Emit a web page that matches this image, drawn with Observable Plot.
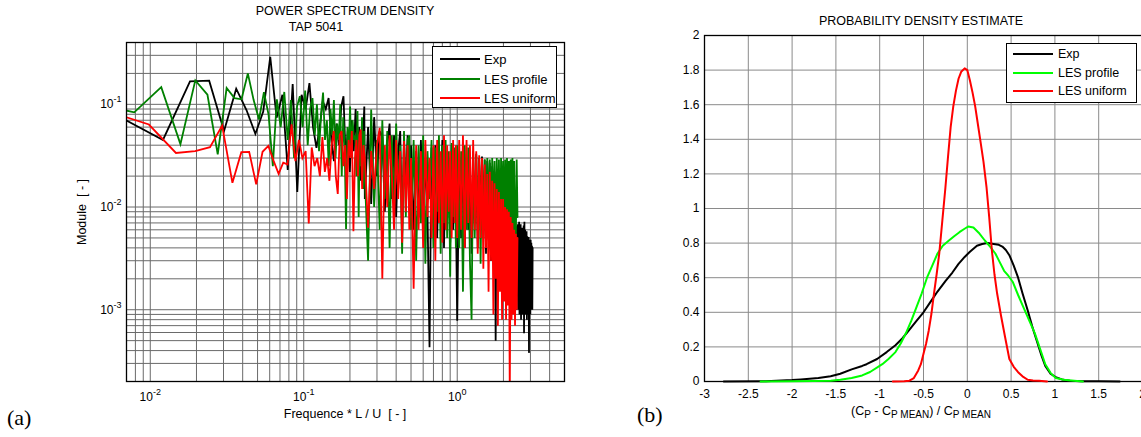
<!DOCTYPE html>
<html><head><meta charset="utf-8">
<script src="https://cdn.jsdelivr.net/npm/d3@7"></script>
<script src="https://cdn.jsdelivr.net/npm/@observablehq/plot@0.6"></script>
<style>
body{margin:0;background:#fff;}
#root{position:relative;width:1141px;height:437px;overflow:hidden;background:#fff;font-family:"Liberation Sans",Arial,sans-serif;color:#000;}
#root svg{position:absolute;top:0;}
.t{position:absolute;white-space:pre;transform:translate(-50%,-50%);line-height:1;font-size:12.5px;}
.cap{position:absolute;font-family:"Liberation Serif","Times New Roman",serif;font-size:22px;line-height:1;transform:translateY(-50%);}
.leg{position:absolute;background:#fff;border:1px solid #000;box-sizing:border-box;}
.leg .sw{position:absolute;height:0;border-top:2px solid #000;transform:translateY(-1px);}
.leg .lt{position:absolute;white-space:pre;line-height:1;transform:translateY(-50%);}
sub{font-size:10px;vertical-align:-3px;}
</style></head>
<body><div id="root"></div>
<script>
// ---------- Panel (a): power spectrum density (log-log) ----------
const expLowF = [0.00605,0.0121,0.01815,0.0242,0.03025,0.0363,0.04235,0.0484,0.05445,0.0605,0.06655,0.0726,0.07865,0.0847,0.09075,0.0968,0.10285,0.1089,0.11495,0.121,0.12705,0.1331,0.13915,0.1452,0.15125,0.1573,0.16335,0.1694,0.17545,0.1815,0.18755,0.1936,0.19965,0.2057,0.21175,0.2178,0.22385,0.2299,0.23595,0.242,0.24805];
const expLowV = [0.078,0.045,0.167,0.170,0.055,0.142,0.088,0.0515,0.085,0.290,0.074,0.124,0.023,0.158,0.014,0.124,0.090,0.161,0.060,0.0377,0.060,0.107,0.090,0.115,0.045,0.028,0.065,0.040,0.095,0.120,0.030,0.055,0.022,0.070,0.035,0.090,0.028,0.060,0.018,0.040,0.095];
const profLowF = [0.00393,0.00786,0.01179,0.01572,0.01965,0.02358,0.02751,0.03144,0.03537,0.0393,0.04323,0.04716,0.05109,0.05502,0.05895,0.06288,0.06681,0.07074,0.07467,0.0786,0.08253,0.08646,0.09039,0.09432,0.09825,0.10218,0.10611,0.11004,0.11397,0.1179,0.12183,0.12576,0.12969,0.13362,0.13755,0.14148,0.14541,0.14934,0.15327,0.1572,0.16113,0.16506,0.16899,0.17292,0.17685,0.18078,0.18471,0.18864,0.19257,0.1965,0.20043,0.20436,0.20829,0.21222,0.21615,0.22008,0.22401,0.22794,0.23187,0.2358,0.23973,0.24366,0.24759];
const profLowV = [0.105,0.0836,0.147,0.041,0.171,0.124,0.0325,0.144,0.115,0.112,0.200,0.110,0.071,0.131,0.080,0.025,0.112,0.060,0.132,0.045,0.110,0.030,0.095,0.120,0.060,0.136,0.040,0.090,0.115,0.050,0.100,0.035,0.080,0.130,0.045,0.070,0.025,0.090,0.050,0.110,0.030,0.065,0.045,0.100,0.020,0.075,0.040,0.0061,0.060,0.035,0.095,0.030,0.070,0.045,0.050,0.020,0.086,0.008,0.050,0.025,0.075,0.015,0.055];
const unifLowF = [0.0049,0.0098,0.0147,0.0196,0.0245,0.0294,0.0343,0.0392,0.0441,0.049,0.0539,0.0588,0.0637,0.0686,0.0735,0.0784,0.0833,0.0882,0.0931,0.098,0.1029,0.1078,0.1127,0.1176,0.1225,0.1274,0.1323,0.1372,0.1421,0.147,0.1519,0.1568,0.1617,0.1666,0.1715,0.1764,0.1813,0.1862,0.1911,0.196,0.2009,0.2058,0.2107,0.2156,0.2205,0.2254,0.2303,0.2352,0.2401,0.245];
const unifLowV = [0.089,0.0636,0.0336,0.035,0.0383,0.062,0.0172,0.0342,0.0344,0.0166,0.0345,0.0394,0.028,0.021,0.027,0.026,0.064,0.028,0.045,0.030,0.035,0.0069,0.038,0.025,0.030,0.020,0.048,0.022,0.030,0.018,0.040,0.055,0.020,0.0134,0.050,0.055,0.025,0.040,0.012,0.045,0.030,0.055,0.0058,0.030,0.045,0.020,0.050,0.057,0.015,0.040];
// shared dense (high-frequency) grid
const denseF = [0.25,0.2625,0.275,0.2875,0.3,0.3125,0.325,0.3375,0.35,0.3625,0.375,0.3875,0.4,0.4125,0.425,0.4375,0.45,0.4625,0.475,0.4875,
  0.5,0.52,0.54,0.56,0.58,0.6,0.62,0.64,0.66,0.68,0.7,0.72,0.74,0.76,0.78,0.8,0.82,0.84,0.86,0.88,0.9,0.92,0.94,0.96,0.98,
  1,1.03,1.06,1.09,1.12,1.15,1.18,1.21,1.24,1.27,1.3,1.33,1.36,1.39,1.42,1.45,1.48,1.51,1.54,1.57,1.6,1.63,1.66,1.69,1.72,1.75,1.78,1.81,1.84,1.87,1.9,1.93,1.96,1.99,2.02,2.05,2.08,2.11,2.14,2.17,2.2,2.23,2.26,2.29,2.32,2.35,2.38,2.41,2.44,2.47];
const expDenseV = [0.012,0.06,0.0107,0.075,0.02,0.055,0.048,0.009,0.04,0.065,0.012,0.05,0.008,0.035,0.055,0.0055,0.045,0.015,0.05,0.01,
  0.04,0.006,0.035,0.008,0.045,0.005,0.03,0.009,0.00043,0.038,0.007,0.04,0.005,0.032,0.011,0.045,0.004,0.035,0.008,0.03,0.0045,0.04,0.006,0.033,0.009,
  0.00078,0.03,0.005,0.028,0.004,0.03,0.006,0.032,0.0035,0.03,0.007,0.033,0.004,0.03,0.006,0.031,0.005,0.029,0.0035,0.028,0.006,0.027,0.003,0.025,0.004,0.022,0.0005,0.02,0.003,0.018,0.0025,0.016,0.002,0.015,0.0015,0.013,0.002,0.012,0.0012,0.01,0.0015,0.009,0.001,0.008,0.0012,0.007,0.0009,0.0065,0.001,0.0068];
const profDenseV = [0.02,0.003,0.089,0.01,0.045,0.006,0.07,0.012,0.055,0.004,0.05,0.009,0.065,0.015,0.04,0.0035,0.055,0.008,0.045,0.05,
  0.006,0.045,0.003,0.04,0.007,0.05,0.0028,0.035,0.012,0.045,0.004,0.038,0.009,0.05,0.0035,0.04,0.007,0.045,0.005,0.035,0.0021,0.042,0.008,0.038,0.004,
  0.04,0.004,0.035,0.0015,0.04,0.006,0.038,0.003,0.0008,0.035,0.005,0.032,0.006,0.03,0.0028,0.03,0.007,0.029,0.005,0.03,0.008,0.029,0.006,0.03,0.009,0.028,0.005,0.03,0.007,0.029,0.004,0.03,0.008,0.028,0.005,0.029,0.0037,0.03,0.006,0.028,0.004,0.029,0.0065,0.03,0.004,0.028,0.006,0.005,0.029,0.008];
const unifDenseV = [0.03,0.0063,0.035,0.015,0.04,0.059,0.002,0.04,0.01,0.05,0.02,0.006,0.045,0.012,0.035,0.0045,0.044,0.009,0.04,0.006,
  0.03,0.0016,0.04,0.006,0.035,0.004,0.045,0.008,0.03,0.005,0.04,0.003,0.045,0.007,0.035,0.0045,0.05,0.006,0.04,0.009,0.035,0.005,0.045,0.007,0.04,
  0.005,0.045,0.006,0.05,0.004,0.045,0.007,0.04,0.005,0.045,0.006,0.035,0.0035,0.032,0.005,0.03,0.0025,0.026,0.004,0.021,0.0015,0.022,0.003,0.018,0.0009,0.017,0.002,0.015,0.0007,0.014,0.0015,0.012,0.0008,0.012,0.0012,0.01,0.0008,0.0095,0.0011,0.009,0.00015,0.008,0.0008,0.007,0.0009,0.006,0.0007,0.0055,0.001,0.005];
const expTailF = [2.5,2.515,2.53,2.545,2.56,2.575,2.59,2.605,2.62,2.635,2.65,2.665,2.68,2.695,2.71,2.725,2.74,2.755,2.77,2.785,2.8,2.815,2.83,2.845,2.86,2.875,2.89,2.905,2.92,2.935,2.95,2.965,2.98,2.995,3.01,3.025,3.04,3.055,3.07,3.085,3.1];
const expTailV = [0.0065,0.001,0.0072,0.0009,0.006,0.0012,0.0068,0.0008,0.0055,0.001,0.0063,0.0009,0.0058,0.0011,0.0066,0.00059,0.0072,0.001,0.006,0.0009,0.0055,0.0012,0.0058,0.0008,0.0052,0.001,0.005,0.0009,0.0051,0.00038,0.0048,0.0011,0.0046,0.0009,0.0048,0.001,0.0045,0.0011,0.0042,0.001,0.004];

const xGridA = [0.007,0.008,0.009,0.01,0.02,0.03,0.04,0.05,0.06,0.07,0.08,0.09,0.1,0.2,0.3,0.4,0.5,0.6,0.7,0.8,0.9,1,2,3,4];
const yGridA = [0.0002,0.0003,0.0004,0.0005,0.0006,0.0007,0.0008,0.0009,0.001,0.002,0.003,0.004,0.005,0.006,0.007,0.008,0.009,0.01,0.02,0.03,0.04,0.05,0.06,0.07,0.08,0.09,0.1,0.2,0.3];
const xMajorA = [0.01,0.1,1];
const yMajorA = [0.001,0.01,0.1];
const xMajorLabelsA = ["10^-2","10^-1","10^0"];
const yMajorLabelsA = ["10^-3","10^-2","10^-1"];

// ---------- Panel (b): probability density estimate ----------
const pdfExpX = [-2.78,-2.3,-2.0,-1.9,-1.7,-1.56,-1.45,-1.32,-1.2,-1.15,-1.03,-0.92,-0.82,-0.74,-0.66,-0.58,-0.5,-0.42,-0.34,-0.25,-0.17,-0.1,-0.03,0.03,0.11,0.17,0.23,0.3,0.36,0.4,0.44,0.48,0.53,0.58,0.63,0.69,0.74,0.79,0.84,0.89,0.95,1.01,1.08,1.17,1.3,1.5,1.74];
const pdfExpY = [0,0.002,0.008,0.012,0.02,0.03,0.045,0.07,0.09,0.10,0.13,0.17,0.21,0.25,0.30,0.35,0.40,0.46,0.52,0.58,0.63,0.68,0.72,0.75,0.785,0.795,0.80,0.795,0.79,0.78,0.76,0.73,0.67,0.60,0.51,0.41,0.32,0.24,0.16,0.09,0.045,0.025,0.012,0.005,0.002,0.001,0];
const pdfProfX = [-2.36,-2.0,-1.75,-1.56,-1.45,-1.32,-1.2,-1.11,-0.97,-0.9,-0.82,-0.76,-0.7,-0.64,-0.58,-0.52,-0.46,-0.4,-0.34,-0.28,-0.21,-0.15,-0.09,-0.04,0.01,0.07,0.13,0.2,0.26,0.32,0.37,0.42,0.47,0.52,0.58,0.64,0.7,0.77,0.83,0.89,0.95,1.01,1.1,1.22,1.32];
const pdfProfY = [0,0.001,0.003,0.005,0.01,0.02,0.035,0.055,0.10,0.13,0.17,0.22,0.28,0.35,0.43,0.51,0.60,0.67,0.74,0.785,0.815,0.84,0.863,0.88,0.896,0.89,0.86,0.815,0.78,0.74,0.69,0.64,0.61,0.575,0.50,0.43,0.36,0.28,0.19,0.10,0.05,0.02,0.01,0.004,0];
const pdfUnifX = [-0.85,-0.72,-0.66,-0.61,-0.56,-0.53,-0.5,-0.47,-0.44,-0.41,-0.38,-0.35,-0.32,-0.285,-0.25,-0.22,-0.19,-0.16,-0.13,-0.1,-0.07,-0.03,0.0,0.03,0.06,0.09,0.12,0.15,0.185,0.22,0.25,0.28,0.31,0.34,0.385,0.43,0.48,0.53,0.58,0.63,0.69,0.75,0.82,0.91];
const pdfUnifY = [0,0.002,0.005,0.02,0.064,0.10,0.16,0.22,0.295,0.39,0.51,0.62,0.74,0.93,1.12,1.30,1.47,1.59,1.68,1.75,1.79,1.81,1.80,1.74,1.67,1.59,1.49,1.39,1.27,1.12,0.95,0.76,0.62,0.51,0.38,0.26,0.13,0.085,0.054,0.03,0.01,0.006,0.004,0];
const xTicksB = [-3,-2.5,-2,-1.5,-1,-0.5,0,0.5,1,1.5,2];
const yTicksB = [0,0.2,0.4,0.6,0.8,1,1.2,1.4,1.6,1.8,2];

const seriesNames = ["Exp","LES profile","LES uniform"];
const colorsA = ["#000000","#008000","#ff0000"];
const colorsB = ["#000000","#00ff00","#ff0000"];

// ---------- build ----------
const pairs = (xs, ys) => xs.map((x, i) => ({x, y: ys[i]}));
const expA = pairs(expLowF.concat(denseF, expTailF), expLowV.concat(expDenseV, expTailV));
const profA = pairs(profLowF.concat(denseF), profLowV.concat(profDenseV));
const unifA = pairs(unifLowF.concat(denseF), unifLowV.concat(unifDenseV));

const fontStyle = {fontFamily: '"Liberation Sans", Arial, sans-serif', fontSize: "12px", color: "#000", background: "transparent", overflow: "visible"};

const plotA = Plot.plot({
  width: 600, height: 437,
  marginLeft: 126, marginRight: 36, marginTop: 42, marginBottom: 56,
  x: {type: "log", domain: [0.007, 5]},
  y: {type: "log", domain: [0.0002, 0.4]},
  style: fontStyle,
  marks: [
    Plot.gridX(xGridA, {stroke: "#6a6a6a", strokeOpacity: 1, strokeWidth: 1}),
    Plot.gridY(yGridA, {stroke: "#6a6a6a", strokeOpacity: 1, strokeWidth: 1}),
    Plot.line(expA, {x: "x", y: "y", stroke: colorsA[0], strokeWidth: 1.8, clip: true, strokeLinejoin: "miter", strokeMiterlimit: 4}),
    Plot.line(profA, {x: "x", y: "y", stroke: colorsA[1], strokeWidth: 1.8, clip: true, strokeLinejoin: "miter", strokeMiterlimit: 4}),
    Plot.line(unifA, {x: "x", y: "y", stroke: colorsA[2], strokeWidth: 1.8, clip: true, strokeLinejoin: "miter", strokeMiterlimit: 4}),
    Plot.frame({stroke: "#000", strokeWidth: 1.3}),
    Plot.axisX(xMajorA, {tickSize: 0, tickPadding: 11, label: null, tickFormat: d => xMajorLabelsA[xMajorA.indexOf(d)]}),
    Plot.axisY(yMajorA, {tickSize: 0, tickPadding: 5, label: null, tickFormat: d => yMajorLabelsA[yMajorA.indexOf(d)]})
  ]
});

const plotB = Plot.plot({
  width: 600, height: 437,
  marginLeft: 124, marginRight: 38, marginTop: 35, marginBottom: 56,
  x: {domain: [-3, 2]},
  y: {domain: [0, 2]},
  style: fontStyle,
  marks: [
    Plot.gridX(xTicksB, {stroke: "#8a8a8a", strokeOpacity: 1}),
    Plot.gridY(yTicksB, {stroke: "#8a8a8a", strokeOpacity: 1}),
    Plot.frame({stroke: "#000", strokeWidth: 1.3}),
    Plot.line(pairs(pdfExpX, pdfExpY), {x: "x", y: "y", stroke: colorsB[0], strokeWidth: 2}),
    Plot.line(pairs(pdfProfX, pdfProfY), {x: "x", y: "y", stroke: colorsB[1], strokeWidth: 2}),
    Plot.line(pairs(pdfUnifX, pdfUnifY), {x: "x", y: "y", stroke: colorsB[2], strokeWidth: 2}),
    Plot.axisX(xTicksB, {tickSize: 0, tickPadding: 8, label: null, tickFormat: d => String(d)}),
    Plot.axisY(yTicksB, {tickSize: 0, tickPadding: 5, label: null, tickFormat: d => String(d)})
  ]
});

// superscript exponents on the log tick labels
plotA.querySelectorAll('g[aria-label="x-axis tick label"] text, g[aria-label="y-axis tick label"] text').forEach(t => {
  const s = t.textContent;
  if (!s.includes("^")) return;
  const [b, e] = s.split("^");
  t.textContent = b;
  const ts = document.createElementNS("http://www.w3.org/2000/svg", "tspan");
  ts.setAttribute("dy", "-6");
  ts.setAttribute("font-size", "9");
  ts.textContent = e;
  t.appendChild(ts);
});

const root = document.getElementById("root");
plotA.style.left = "0px";
plotB.style.left = "580px";
root.appendChild(plotA);
root.appendChild(plotB);

function txt(html, x, y, cls = "t", extra = "") {
  const d = document.createElement("div");
  d.className = cls;
  d.innerHTML = html;
  d.style.left = x + "px";
  d.style.top = y + "px";
  if (extra) d.style.cssText += extra;
  root.appendChild(d);
  return d;
}
// titles and labels
txt("POWER SPECTRUM DENSITY", 345, 10.5);
txt("TAP 5041", 316, 26.5);
txt("Frequence * L / U  [ - ]", 345, 414);
txt("Module  [ - ]", 82, 212, "t", "transform:translate(-50%,-50%) rotate(-90deg);");
txt("PROBABILITY DENSITY ESTIMATE", 921, 20.5);
txt("(C<sub>P</sub> - C<sub>P MEAN</sub>) / C<sub>P MEAN</sub>", 921, 412);
txt("(a)", 7, 418, "cap");
txt("(b)", 637, 415, "cap");

function legend(x, y, w, h, rowYs, lineX0, lineX1, textX, colors, fs) {
  const box = document.createElement("div");
  box.className = "leg";
  Object.assign(box.style, {left: x + "px", top: y + "px", width: w + "px", height: h + "px"});
  seriesNames.forEach((name, i) => {
    const sw = document.createElement("div");
    sw.className = "sw";
    Object.assign(sw.style, {left: lineX0 + "px", width: (lineX1 - lineX0) + "px", top: rowYs[i] + "px", borderTopColor: colors[i]});
    box.appendChild(sw);
    const lt = document.createElement("div");
    lt.className = "lt";
    lt.textContent = name;
    Object.assign(lt.style, {left: textX + "px", top: rowYs[i] + "px", fontSize: fs + "px"});
    box.appendChild(lt);
  });
  root.appendChild(box);
}
legend(432, 46, 125, 62, [11.5, 31.5, 51], 7, 47, 51, colorsA, 13);
legend(1006, 42.5, 131, 60.5, [10, 29, 47.5], 6, 46, 51, colorsB, 12.5);
</script>
</body></html>
